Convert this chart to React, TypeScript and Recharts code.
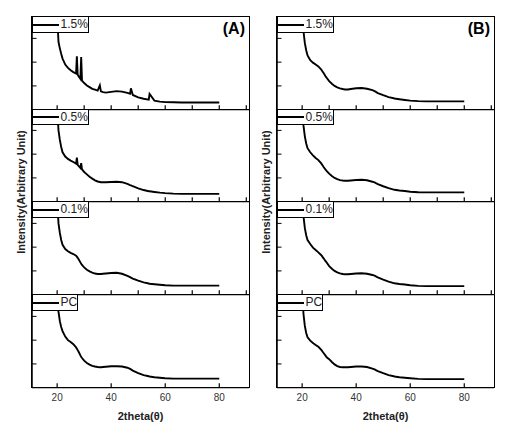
import React from 'react';
import { LineChart, Line, XAxis, YAxis } from 'recharts';

// 2theta sampling grid (degrees)
const theta = [
  20, 20.5, 21, 21.5, 22, 23, 24, 25, 26, 27,
  27.3, 27.6, 28, 28.6, 28.9, 29.2, 30, 31, 32, 33,
  34, 35, 35.8, 36.2, 37, 38, 40, 42, 44, 46,
  47, 47.3, 48, 50, 52, 53.9, 54.2, 56, 58, 60,
  63, 66, 70, 75, 80,
];

// Panel (A)
const a15 = [
  4.0, 2.85, 2.58, 2.35, 2.15, 1.9, 1.76, 1.66, 1.58, 1.52,
  2.25, 1.47, 1.4, 1.3, 2.22, 1.22, 1.12, 1.02, 0.95, 0.88,
  0.84, 0.8, 1.02, 0.77, 0.74, 0.72, 0.75, 0.78, 0.76, 0.71,
  0.67, 0.9, 0.62, 0.52, 0.46, 0.42, 0.66, 0.38, 0.34, 0.32,
  0.31, 0.3, 0.3, 0.3, 0.3,
];
const a05 = [
  4.0, 3.0, 2.6, 2.3, 2.08, 1.9, 1.8, 1.73, 1.67, 1.6,
  1.85, 1.55, 1.5, 1.42, 1.62, 1.36, 1.25, 1.15, 1.05, 0.97,
  0.9, 0.85, 0.83, 0.82, 0.82, 0.82, 0.83, 0.84, 0.82, 0.75,
  0.7, 0.69, 0.65, 0.56, 0.49, 0.44, 0.44, 0.41, 0.38, 0.36,
  0.34, 0.33, 0.33, 0.33, 0.33,
];
const a01 = [
  4.0, 3.0, 2.6, 2.3, 2.1, 1.92, 1.83, 1.76, 1.71, 1.64,
  1.6, 1.55, 1.48, 1.36, 1.3, 1.25, 1.15, 1.05, 0.98, 0.93,
  0.89, 0.87, 0.87, 0.87, 0.88, 0.89, 0.91, 0.92, 0.88, 0.79,
  0.74, 0.72, 0.68, 0.59, 0.52, 0.47, 0.46, 0.44, 0.42, 0.4,
  0.38, 0.38, 0.38, 0.38, 0.38,
];
const aPC = [
  4.0, 3.2, 2.8, 2.55, 2.38, 2.15, 2.0, 1.92, 1.83, 1.7,
  1.64, 1.58, 1.5, 1.36, 1.3, 1.25, 1.14, 1.04, 0.97, 0.92,
  0.89, 0.87, 0.86, 0.86, 0.87, 0.88, 0.9, 0.9, 0.89, 0.84,
  0.79, 0.77, 0.72, 0.61, 0.53, 0.48, 0.47, 0.44, 0.42, 0.4,
  0.38, 0.38, 0.38, 0.38, 0.38,
];

// Panel (B)
const b15 = [
  4.0, 3.3, 2.8, 2.5, 2.28, 2.08, 1.98, 1.9, 1.82, 1.7,
  1.65, 1.6, 1.53, 1.42, 1.37, 1.32, 1.2, 1.09, 1.0, 0.94,
  0.9, 0.87, 0.85, 0.85, 0.85, 0.87, 0.9, 0.91, 0.88, 0.82,
  0.77, 0.75, 0.7, 0.61, 0.53, 0.48, 0.47, 0.44, 0.41, 0.38,
  0.36, 0.35, 0.35, 0.35, 0.35,
];
const b05 = [
  4.0, 3.2, 2.75, 2.45, 2.25, 2.08, 1.95, 1.84, 1.75, 1.62,
  1.57, 1.52, 1.45, 1.36, 1.32, 1.28, 1.18, 1.08, 1.0, 0.95,
  0.91, 0.89, 0.88, 0.88, 0.88, 0.89, 0.91, 0.92, 0.9, 0.84,
  0.8, 0.78, 0.74, 0.65, 0.57, 0.51, 0.5, 0.47, 0.45, 0.42,
  0.4, 0.39, 0.39, 0.39, 0.39,
];
const b01 = [
  4.0, 3.3, 2.8, 2.5, 2.3, 2.13, 1.98, 1.88, 1.78, 1.67,
  1.63, 1.58, 1.52, 1.42, 1.38, 1.33, 1.2, 1.09, 1.0, 0.94,
  0.9, 0.87, 0.86, 0.86, 0.86, 0.87, 0.89, 0.9, 0.88, 0.83,
  0.79, 0.77, 0.73, 0.63, 0.55, 0.49, 0.48, 0.45, 0.43, 0.4,
  0.37, 0.36, 0.36, 0.36, 0.36,
];
const bPC = [
  4.0, 3.1, 2.6, 2.3, 2.12, 1.98, 1.88, 1.8, 1.72, 1.6,
  1.56, 1.51, 1.45, 1.36, 1.31, 1.27, 1.2, 1.08, 0.98, 0.91,
  0.87, 0.86, 0.86, 0.86, 0.86, 0.87, 0.89, 0.89, 0.87, 0.8,
  0.76, 0.74, 0.7, 0.61, 0.53, 0.48, 0.47, 0.44, 0.42, 0.4,
  0.37, 0.36, 0.36, 0.36, 0.36,
];

const sampleLabels = ['1.5%', '0.5%', '0.1%', 'PC'];
const panelNames = ['(A)', '(B)'];
const xMajorTicks = [20, 40, 60, 80];
const xAllTicks = [20, 30, 40, 50, 60, 70, 80, 90];
const yTicks = [1, 2, 3];
const xDomain: [number, number] = [10.7, 91];
const yDomain: [number, number] = [0, 3.9];
const xTitle = '2theta(\u03b8)';
const yTitle = 'Intensity(Arbitrary Unit)';

const FONT = 'Arial, "Liberation Sans", sans-serif';
const PW = 217;
const SH = 92.7;
const TOP = 16.5;
const TICK_LEN = 4.5;
const panelLefts = [32, 277];
const panelSeries = [
  [a15, a05, a01, aPC],
  [b15, b05, b01, bPC],
];

function SubPlot({ values, left, top, isBottom }: { values: number[]; left: number; top: number; isBottom: boolean }) {
  const data = theta.map((t, i) => ({ theta: t, v: values[i] }));
  const extra = isBottom ? 30 : 2;
  const h = SH + extra;
  return (
    <div style={{ position: 'absolute', left: left - 1, top, width: PW + 1, height: h }}>
      <LineChart width={PW + 1} height={h} data={data} margin={{ top: 0, right: 0, bottom: 0, left: 0 }}>
        <XAxis
          type="number"
          dataKey="theta"
          domain={xDomain}
          allowDataOverflow
          ticks={isBottom ? xMajorTicks : xAllTicks}
          interval={0}
          tickSize={0}
          tickLine={false}
          tickMargin={0}
          height={extra}
          axisLine={{ stroke: '#000', strokeWidth: 1.3 }}
          tick={(p: any) => (
            <g>
              <line x1={p.x} x2={p.x} y1={p.y} y2={p.y - TICK_LEN} stroke="#000" strokeWidth={1.2} />
              {isBottom ? (
                <text x={p.x} y={p.y + 13} textAnchor="middle" fill="#333" fontSize={10} fontFamily={FONT}>
                  {p.payload.value}
                </text>
              ) : null}
            </g>
          )}
        />
        <YAxis
          type="number"
          domain={yDomain}
          allowDataOverflow
          ticks={yTicks}
          interval={0}
          tickSize={0}
          tickLine={false}
          tickMargin={0}
          width={1}
          axisLine={{ stroke: '#000', strokeWidth: 1.5 }}
          tick={(p: any) => (
            <line x1={1} x2={1 + TICK_LEN} y1={p.y} y2={p.y} stroke="#000" strokeWidth={1} />
          )}
        />
        <Line
          type="linear"
          dataKey="v"
          stroke="#000"
          strokeWidth={1.9}
          dot={false}
          isAnimationActive={false}
        />
      </LineChart>
    </div>
  );
}

function LegendBox({ label, left, top }: { label: string; left: number; top: number }) {
  const w = label === 'PC' ? 46 : 57;
  return (
    <div
      style={{
        position: 'absolute', left, top, width: w, height: 16.5, boxSizing: 'border-box',
        border: '1px solid #000', background: '#fff', zIndex: 3,
      }}
    >
      <div style={{ position: 'absolute', left: 0, top: 6.5, width: 26, height: 2, background: '#000' }} />
      <div
        style={{
          position: 'absolute', left: 28, top: 0, fontFamily: FONT, fontSize: 12,
          lineHeight: '15px', color: '#222', whiteSpace: 'nowrap',
        }}
      >
        {label}
      </div>
    </div>
  );
}

export default function App() {
  return (
    <div style={{ position: 'absolute', left: 0, top: 0, width: 513, height: 436, background: '#fff', overflow: 'hidden' }}>
      {panelLefts.map((pl, p) => (
        <React.Fragment key={p}>
          {panelSeries[p].map((vals, i) => (
            <SubPlot key={i} values={vals} left={pl} top={TOP + i * SH} isBottom={i === 3} />
          ))}
          <div
            style={{
              position: 'absolute', left: pl - 0.75, top: TOP - 0.75, width: PW + 1.5, height: 4 * SH + 1.5,
              border: '1.5px solid #000', boxSizing: 'border-box', zIndex: 2, pointerEvents: 'none',
            }}
          />
          {sampleLabels.map((lab, i) => (
            <LegendBox key={lab} label={lab} left={pl - 0.5} top={TOP + i * SH - 0.5} />
          ))}
          <div
            style={{
              position: 'absolute', left: pl + PW - 60, width: 56, top: 19, textAlign: 'right',
              fontFamily: FONT, fontWeight: 'bold', fontSize: 16, lineHeight: '20px', color: '#000', zIndex: 3,
            }}
          >
            {panelNames[p]}
          </div>
          <div
            style={{
              position: 'absolute', left: pl, width: PW, top: 409, textAlign: 'center',
              fontFamily: FONT, fontWeight: 'bold', fontSize: 11, lineHeight: '14px', color: '#222',
            }}
          >
            {xTitle}
          </div>
          <div
            style={{
              position: 'absolute', left: pl - 11 - 100, top: 192 - 7, width: 200, height: 14,
              textAlign: 'center', transform: 'rotate(-90deg)', transformOrigin: '100px 7px',
              fontFamily: FONT, fontWeight: 'bold', fontSize: 11, lineHeight: '14px', color: '#222',
              whiteSpace: 'nowrap',
            }}
          >
            {yTitle}
          </div>
        </React.Fragment>
      ))}
    </div>
  );
}
